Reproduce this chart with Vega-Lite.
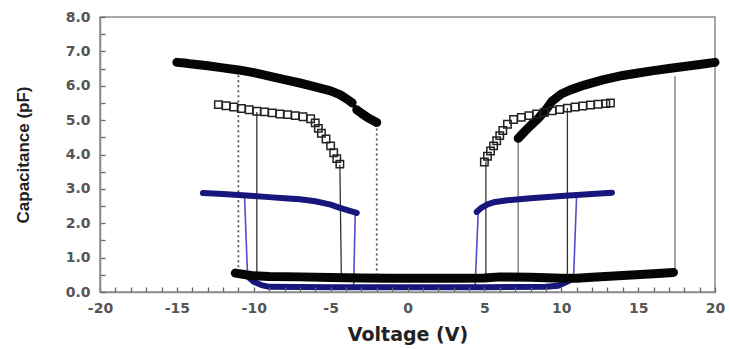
{
  "$schema": "https://vega.github.io/schema/vega-lite/v6.json",
  "width": 615,
  "height": 275,
  "autosize": "none",
  "padding": {"left": 100, "top": 17, "right": 15, "bottom": 57},
  "background": "white",
  "config": {
    "view": {"stroke": "#8a8a8a", "strokeWidth": 1.5},
    "axis": {
      "grid": false,
      "domainColor": "#8a8a8a",
      "domainWidth": 1.5,
      "labelFont": "DejaVu Sans",
      "labelFontWeight": "bold",
      "labelFontSize": 14,
      "labelColor": "#555555",
      "titleFontWeight": "bold",
      "titleColor": "#222222"
    }
  },
  "datasets": {
    "marks": [
      {"s": "black", "b": "UL", "v": -15.0, "c": 6.68},
      {"s": "black", "b": "UL", "v": -14.5, "c": 6.66},
      {"s": "black", "b": "UL", "v": -14.0, "c": 6.63},
      {"s": "black", "b": "UL", "v": -13.0, "c": 6.58},
      {"s": "black", "b": "UL", "v": -12.0, "c": 6.52},
      {"s": "black", "b": "UL", "v": -11.0, "c": 6.46},
      {"s": "black", "b": "UL", "v": -10.0, "c": 6.38},
      {"s": "black", "b": "UL", "v": -9.0, "c": 6.28},
      {"s": "black", "b": "UL", "v": -8.0, "c": 6.18},
      {"s": "black", "b": "UL", "v": -7.0, "c": 6.08},
      {"s": "black", "b": "UL", "v": -6.0, "c": 5.97},
      {"s": "black", "b": "UL", "v": -5.0, "c": 5.85},
      {"s": "black", "b": "UL", "v": -4.4, "c": 5.74},
      {"s": "black", "b": "UL", "v": -3.9, "c": 5.6},
      {"s": "black", "b": "UL", "v": -3.6, "c": 5.5},
      {"s": "black", "b": "UL2", "v": -3.3, "c": 5.3},
      {"s": "black", "b": "UL2", "v": -3.0, "c": 5.2},
      {"s": "black", "b": "UL2", "v": -2.5, "c": 5.05},
      {"s": "black", "b": "UL2", "v": -2.0, "c": 4.93},
      {"s": "black", "b": "UR", "v": 7.2, "c": 4.47},
      {"s": "black", "b": "UR", "v": 7.6, "c": 4.66},
      {"s": "black", "b": "UR", "v": 8.0, "c": 4.84},
      {"s": "black", "b": "UR", "v": 8.5, "c": 5.05},
      {"s": "black", "b": "UR", "v": 9.0, "c": 5.3},
      {"s": "black", "b": "UR", "v": 9.4, "c": 5.55},
      {"s": "black", "b": "UR", "v": 10.0, "c": 5.76},
      {"s": "black", "b": "UR", "v": 10.6, "c": 5.88},
      {"s": "black", "b": "UR", "v": 11.5, "c": 6.02},
      {"s": "black", "b": "UR", "v": 12.7, "c": 6.17},
      {"s": "black", "b": "UR", "v": 14.0, "c": 6.3},
      {"s": "black", "b": "UR", "v": 15.0, "c": 6.37},
      {"s": "black", "b": "UR", "v": 16.0, "c": 6.44},
      {"s": "black", "b": "UR", "v": 17.0, "c": 6.5},
      {"s": "black", "b": "UR", "v": 18.0, "c": 6.56},
      {"s": "black", "b": "UR", "v": 19.0, "c": 6.62},
      {"s": "black", "b": "UR", "v": 20.0, "c": 6.68},
      {"s": "black", "b": "B", "v": -11.2, "c": 0.55},
      {"s": "black", "b": "B", "v": -10.5, "c": 0.5},
      {"s": "black", "b": "B", "v": -10.0, "c": 0.47},
      {"s": "black", "b": "B", "v": -9.0, "c": 0.45},
      {"s": "black", "b": "B", "v": -7.0, "c": 0.44},
      {"s": "black", "b": "B", "v": -5.0, "c": 0.42},
      {"s": "black", "b": "B", "v": -3.0, "c": 0.41},
      {"s": "black", "b": "B", "v": -1.0, "c": 0.4},
      {"s": "black", "b": "B", "v": 1.0, "c": 0.4},
      {"s": "black", "b": "B", "v": 3.0, "c": 0.4},
      {"s": "black", "b": "B", "v": 5.0, "c": 0.41},
      {"s": "black", "b": "B", "v": 6.0, "c": 0.44},
      {"s": "black", "b": "B", "v": 8.0, "c": 0.43},
      {"s": "black", "b": "B", "v": 10.0, "c": 0.4},
      {"s": "black", "b": "B", "v": 11.0, "c": 0.4},
      {"s": "black", "b": "B", "v": 12.0, "c": 0.43},
      {"s": "black", "b": "B", "v": 14.0, "c": 0.48},
      {"s": "black", "b": "B", "v": 16.0, "c": 0.53},
      {"s": "black", "b": "B", "v": 17.3, "c": 0.57},
      {"s": "blue", "b": "UL", "v": -13.3, "c": 2.88},
      {"s": "blue", "b": "UL", "v": -12.0, "c": 2.85},
      {"s": "blue", "b": "UL", "v": -11.0, "c": 2.82},
      {"s": "blue", "b": "UL", "v": -10.0, "c": 2.79},
      {"s": "blue", "b": "UL", "v": -9.0, "c": 2.76},
      {"s": "blue", "b": "UL", "v": -8.0, "c": 2.73},
      {"s": "blue", "b": "UL", "v": -7.0, "c": 2.7},
      {"s": "blue", "b": "UL", "v": -6.0, "c": 2.64},
      {"s": "blue", "b": "UL", "v": -5.0, "c": 2.54},
      {"s": "blue", "b": "UL", "v": -4.4, "c": 2.45},
      {"s": "blue", "b": "UL", "v": -3.8, "c": 2.37},
      {"s": "blue", "b": "UL", "v": -3.3, "c": 2.3},
      {"s": "blue", "b": "UR", "v": 4.5, "c": 2.33},
      {"s": "blue", "b": "UR", "v": 4.8, "c": 2.45},
      {"s": "blue", "b": "UR", "v": 5.2, "c": 2.55},
      {"s": "blue", "b": "UR", "v": 5.6, "c": 2.61},
      {"s": "blue", "b": "UR", "v": 6.5, "c": 2.67},
      {"s": "blue", "b": "UR", "v": 8.0, "c": 2.73},
      {"s": "blue", "b": "UR", "v": 10.0, "c": 2.79},
      {"s": "blue", "b": "UR", "v": 12.0, "c": 2.85},
      {"s": "blue", "b": "UR", "v": 13.3, "c": 2.89},
      {"s": "blue", "b": "B", "v": -10.4, "c": 0.45},
      {"s": "blue", "b": "B", "v": -10.0, "c": 0.3},
      {"s": "blue", "b": "B", "v": -9.5, "c": 0.2},
      {"s": "blue", "b": "B", "v": -9.0, "c": 0.15},
      {"s": "blue", "b": "B", "v": -5.0, "c": 0.14},
      {"s": "blue", "b": "B", "v": 0.0, "c": 0.14},
      {"s": "blue", "b": "B", "v": 5.0, "c": 0.14},
      {"s": "blue", "b": "B", "v": 9.0, "c": 0.15},
      {"s": "blue", "b": "B", "v": 9.8, "c": 0.18},
      {"s": "blue", "b": "B", "v": 10.3, "c": 0.28},
      {"s": "blue", "b": "B", "v": 10.8, "c": 0.4},
      {"s": "square", "b": "UL", "v": -12.3, "c": 5.45},
      {"s": "square", "b": "UL", "v": -11.8, "c": 5.42},
      {"s": "square", "b": "UL", "v": -11.3, "c": 5.38},
      {"s": "square", "b": "UL", "v": -10.8, "c": 5.34},
      {"s": "square", "b": "UL", "v": -10.3, "c": 5.3},
      {"s": "square", "b": "UL", "v": -9.8, "c": 5.26},
      {"s": "square", "b": "UL", "v": -9.3, "c": 5.24},
      {"s": "square", "b": "UL", "v": -8.8, "c": 5.21},
      {"s": "square", "b": "UL", "v": -8.3, "c": 5.18},
      {"s": "square", "b": "UL", "v": -7.8, "c": 5.16},
      {"s": "square", "b": "UL", "v": -7.3, "c": 5.13},
      {"s": "square", "b": "UL", "v": -6.8, "c": 5.1},
      {"s": "square", "b": "UL", "v": -6.3, "c": 5.04},
      {"s": "square", "b": "UL", "v": -6.0, "c": 4.92},
      {"s": "square", "b": "UL", "v": -5.8, "c": 4.76},
      {"s": "square", "b": "UL", "v": -5.6, "c": 4.62},
      {"s": "square", "b": "UL", "v": -5.3, "c": 4.45},
      {"s": "square", "b": "UL", "v": -5.0, "c": 4.25},
      {"s": "square", "b": "UL", "v": -4.8, "c": 4.05},
      {"s": "square", "b": "UL", "v": -4.6, "c": 3.88},
      {"s": "square", "b": "UL", "v": -4.4, "c": 3.72},
      {"s": "square", "b": "UR", "v": 5.0, "c": 3.78},
      {"s": "square", "b": "UR", "v": 5.2, "c": 3.95},
      {"s": "square", "b": "UR", "v": 5.4, "c": 4.1},
      {"s": "square", "b": "UR", "v": 5.6, "c": 4.25},
      {"s": "square", "b": "UR", "v": 5.8, "c": 4.4},
      {"s": "square", "b": "UR", "v": 6.0, "c": 4.55},
      {"s": "square", "b": "UR", "v": 6.2, "c": 4.7},
      {"s": "square", "b": "UR", "v": 6.5, "c": 4.88},
      {"s": "square", "b": "UR", "v": 6.9, "c": 5.02},
      {"s": "square", "b": "UR", "v": 7.4, "c": 5.08},
      {"s": "square", "b": "UR", "v": 7.9, "c": 5.13},
      {"s": "square", "b": "UR", "v": 8.4, "c": 5.18},
      {"s": "square", "b": "UR", "v": 8.9, "c": 5.22},
      {"s": "square", "b": "UR", "v": 9.4, "c": 5.27},
      {"s": "square", "b": "UR", "v": 9.9, "c": 5.31},
      {"s": "square", "b": "UR", "v": 10.4, "c": 5.35},
      {"s": "square", "b": "UR", "v": 10.9, "c": 5.38},
      {"s": "square", "b": "UR", "v": 11.4, "c": 5.41},
      {"s": "square", "b": "UR", "v": 11.9, "c": 5.44},
      {"s": "square", "b": "UR", "v": 12.4, "c": 5.46},
      {"s": "square", "b": "UR", "v": 12.9, "c": 5.48},
      {"s": "square", "b": "UR", "v": 13.2, "c": 5.5}
    ],
    "verticals": [
      {"k": "dot", "v": -11.0, "c": 6.45, "v2": -11.0, "c2": 0.55},
      {"k": "dot", "v": -2.0, "c": 4.9, "v2": -2.0, "c2": 0.4},
      {"k": "sq", "v": -9.8, "c": 5.24, "v2": -9.8, "c2": 0.35},
      {"k": "sq", "v": -4.4, "c": 3.7, "v2": -4.3, "c2": 0.35},
      {"k": "sq", "v": 5.1, "c": 3.8, "v2": 5.1, "c2": 0.35},
      {"k": "sq", "v": 10.4, "c": 5.35, "v2": 10.4, "c2": 0.35},
      {"k": "bk", "v": 7.2, "c": 4.47, "v2": 7.2, "c2": 0.4},
      {"k": "bk", "v": 17.4, "c": 6.28, "v2": 17.4, "c2": 0.58},
      {"k": "bl", "v": -10.6, "c": 2.78, "v2": -10.4, "c2": 0.45},
      {"k": "bl", "v": -3.4, "c": 2.3, "v2": -3.5, "c2": 0.2},
      {"k": "bl", "v": 4.6, "c": 2.33, "v2": 4.4, "c2": 0.16},
      {"k": "bl", "v": 11.0, "c": 2.82, "v2": 10.8, "c2": 0.4}
    ]
  },
  "encoding": {
    "x": {
      "field": "v",
      "type": "quantitative",
      "scale": {"domain": [-20, 20], "nice": false, "zero": false},
      "axis": {
        "title": "Voltage (V)",
        "titleFont": "DejaVu Sans",
        "titleFontSize": 19,
        "values": [-20,-19,-18,-17,-16,-15,-14,-13,-12,-11,-10,-9,-8,-7,-6,-5,-4,-3,-2,-1,0,1,2,3,4,5,6,7,8,9,10,11,12,13,14,15,16,17,18,19,20],
        "labelExpr": "datum.value % 5 === 0 ? toString(datum.value) : ''",
        "ticks": true,
        "tickColor": "#666666",
        "tickWidth": 1.3,
        "tickOpacity": 1,
        "tickSize": -5,
        "zindex": 2,
        "labelPadding": 14,
        "labelFlush": false,
        "labelOverlap": false,
        "titlePadding": 10
      }
    },
    "y": {
      "field": "c",
      "type": "quantitative",
      "scale": {"domain": [0, 8], "nice": false},
      "axis": {
        "title": "Capacitance (pF)",
        "titleFont": "Liberation Sans",
        "titleFontSize": 17,
        "values": [0,0.5,1,1.5,2,2.5,3,3.5,4,4.5,5,5.5,6,6.5,7,7.5,8],
        "labelExpr": "datum.value % 1 === 0 ? format(datum.value, '.1f') : ''",
        "ticks": true,
        "tickColor": "#666666",
        "tickWidth": 1.3,
        "tickOpacity": 1,
        "tickSize": -5,
        "zindex": 2,
        "labelPadding": 15,
        "labelFlush": false,
        "labelOverlap": false,
        "titlePadding": 33
      }
    }
  },
  "layer": [
    {
      "data": {"name": "verticals"},
      "transform": [{"filter": "datum.k === 'dot'"}],
      "mark": {"type": "rule", "color": "#555555", "strokeWidth": 1.8, "strokeDash": [2, 3]},
      "encoding": {"x2": {"field": "v2"}, "y2": {"field": "c2"}}
    },
    {
      "data": {"name": "verticals"},
      "transform": [{"filter": "datum.k === 'sq'"}],
      "mark": {"type": "rule", "color": "#333333", "strokeWidth": 1.3},
      "encoding": {"x2": {"field": "v2"}, "y2": {"field": "c2"}}
    },
    {
      "data": {"name": "verticals"},
      "transform": [{"filter": "datum.k === 'bk'"}],
      "mark": {"type": "rule", "color": "#8c8c8c", "strokeWidth": 1.6},
      "encoding": {"x2": {"field": "v2"}, "y2": {"field": "c2"}}
    },
    {
      "data": {"name": "verticals"},
      "transform": [{"filter": "datum.k === 'bl'"}],
      "mark": {"type": "rule", "color": "#4f4fcc", "strokeWidth": 1.6},
      "encoding": {"x2": {"field": "v2"}, "y2": {"field": "c2"}}
    },
    {
      "data": {"name": "marks"},
      "transform": [{"filter": "datum.s === 'blue'"}],
      "mark": {"type": "line", "color": "#16167c", "strokeWidth": 6, "strokeCap": "round", "strokeJoin": "round"},
      "encoding": {"detail": {"field": "b"}}
    },
    {
      "data": {"name": "marks"},
      "transform": [{"filter": "datum.s === 'black'"}],
      "mark": {"type": "line", "color": "#050505", "strokeWidth": 9, "strokeCap": "round", "strokeJoin": "round"},
      "encoding": {"detail": {"field": "b"}}
    },
    {
      "data": {"name": "marks"},
      "transform": [{"filter": "datum.s === 'square'"}],
      "mark": {"type": "point", "shape": "square", "filled": false, "color": "#222222", "size": 55, "strokeWidth": 1.5, "opacity": 1}
    }
  ]
}
